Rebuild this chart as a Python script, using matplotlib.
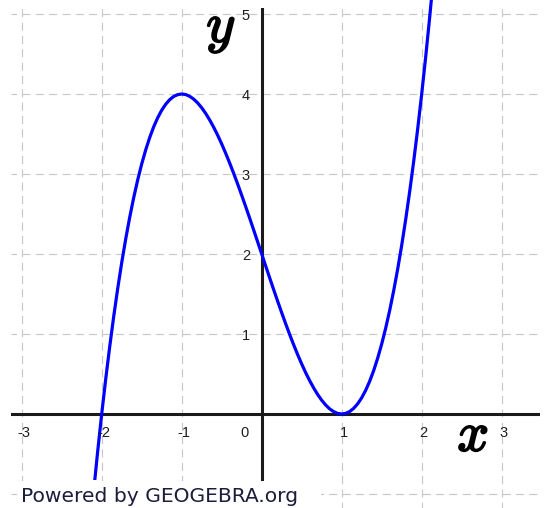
import matplotlib
matplotlib.use("Agg")
import matplotlib.pyplot as plt
from matplotlib.patches import Rectangle
import matplotlib.patheffects as pe

# ---- data ----
curve_x = [-2.1, -2.05, -2.0, -1.95, -1.9, -1.85, -1.8, -1.75, -1.7, -1.65,
           -1.6, -1.55, -1.5, -1.45, -1.4, -1.35, -1.3, -1.25, -1.2, -1.15,
           -1.1, -1.05, -1.0, -0.95, -0.9, -0.85, -0.8, -0.75, -0.7, -0.65,
           -0.6, -0.55, -0.5, -0.45, -0.4, -0.35, -0.3, -0.25, -0.2, -0.15,
           -0.1, -0.05, 0.0, 0.05, 0.1, 0.15, 0.2, 0.25, 0.3, 0.35,
           0.4, 0.45, 0.5, 0.55, 0.6, 0.65, 0.7, 0.75, 0.8, 0.85,
           0.9, 0.95, 1.0, 1.05, 1.1, 1.15, 1.2, 1.25, 1.3, 1.35,
           1.4, 1.45, 1.5, 1.55, 1.6, 1.65, 1.7, 1.75, 1.8, 1.85,
           1.9, 1.95, 2.0, 2.05, 2.1, 2.15]
curve_y = [-0.961, -0.465, 0.0, 0.435, 0.841, 1.218, 1.568, 1.891, 2.187, 2.458,
           2.704, 2.926, 3.125, 3.301, 3.456, 3.590, 3.703, 3.797, 3.872, 3.929,
           3.969, 3.992, 4.0, 3.993, 3.971, 3.936, 3.888, 3.828, 3.757, 3.675,
           3.584, 3.484, 3.375, 3.259, 3.136, 3.007, 2.873, 2.734, 2.592, 2.447,
           2.299, 2.150, 2.0, 1.850, 1.701, 1.553, 1.408, 1.266, 1.127, 0.993,
           0.864, 0.741, 0.625, 0.516, 0.416, 0.325, 0.243, 0.172, 0.112, 0.064,
           0.029, 0.007, 0.0, 0.008, 0.031, 0.071, 0.128, 0.203, 0.297, 0.410,
           0.544, 0.699, 0.875, 1.074, 1.296, 1.542, 1.813, 2.109, 2.432, 2.782,
           3.159, 3.565, 4.0, 4.465, 4.961, 5.488]
x_ticks = [-3, -2, -1, 0, 1, 2, 3]
y_ticks = [-1, 0, 1, 2, 3, 4, 5]
x_label_values = [-3, -2, -1, 1, 2, 3]
x_tick_labels = ["-3", "-2", "-1", "1", "2", "3"]
origin_label = "0"
y_label_values = [1, 2, 3, 4, 5]
y_tick_labels = ["1", "2", "3", "4", "5"]
credit = "Powered by GEOGEBRA.org"

W, H, DPI = 546, 508, 100
fig = plt.figure(figsize=(W / DPI, H / DPI), dpi=DPI)
fig.patch.set_facecolor("white")

# axes region in pixels
L, R, T, B = 11, 540, 8, 508
ax = fig.add_axes([L / W, 1 - B / H, (R - L) / W, (B - T) / H])
X0, SX = 261.7, 80.0   # pixel of x=0, pixels per unit
Y0, SY = 414.0, 80.0
ax.set_xlim((L - X0) / SX, (R - X0) / SX)
ax.set_ylim((Y0 - B) / SY, (Y0 - T) / SY)
for s in ax.spines.values():
    s.set_visible(False)
ax.set_xticks(x_ticks)
ax.set_yticks(y_ticks)
ax.tick_params(length=0, labelbottom=False, labelleft=False)
ax.grid(True, color="#c8c8c8", linewidth=0.85, linestyle=(2.0, (6.8, 4.5)))
ax.set_axisbelow(True)

# axes lines
ax.axhline(0, color="#1a1a1a", lw=2.2, zorder=3)
ymin, ymax = ax.get_ylim()
y_axis_bottom = -0.825
ax.axvline(0, ymin=(y_axis_bottom - ymin) / (ymax - ymin), ymax=1,
           color="#1a1a1a", lw=2.2, zorder=3)

# curve
line, = ax.plot(curve_x, curve_y, color="#0000ff", lw=2.3, zorder=4,
                solid_capstyle="butt", solid_joinstyle="round")
clip = Rectangle((-4, y_axis_bottom), 8, 10, transform=ax.transData)
line.set_clip_path(clip)

# tick labels
lab_y = (Y0 - 433) / SY
tick_font = dict(fontsize=10.5, family="Liberation Sans", color="#1e1e1e", zorder=5)
for v, t in zip(x_label_values, x_tick_labels):
    ax.text(v + 0.025, lab_y, t, ha="center", va="center", **tick_font)
ax.text((245 - X0) / SX, lab_y, origin_label, ha="center", va="center", **tick_font)
for v, t in zip(y_label_values, y_tick_labels):
    ax.text((250 - X0) / SX, v - 0.02, t, ha="right", va="center", **tick_font)

# axis names
plt.rcParams["mathtext.fontset"] = "cm"
bold = [pe.withStroke(linewidth=1.4, foreground="black")]
ax.text((473 - X0) / SX, (Y0 - 451) / SY, r"$x$", ha="center", va="baseline",
        fontsize=40, color="black", path_effects=bold, zorder=5)
ax.text((221 - X0) / SX, (Y0 - 42) / SY, r"$y$", ha="center", va="baseline",
        fontsize=40, color="black", path_effects=bold, zorder=5)

# credit box
fig.add_artist(Rectangle((18 / W, 0), (321 - 18) / W, (508 - 481) / H,
                         transform=fig.transFigure, facecolor="white",
                         edgecolor="none", zorder=5))
fig.text(21 / W, 1 - 502 / H, credit, ha="left", va="baseline", fontsize=14.6,
         family="DejaVu Sans", color="#1c1c3c", zorder=6)

fig.savefig("out.png", dpi=DPI)
